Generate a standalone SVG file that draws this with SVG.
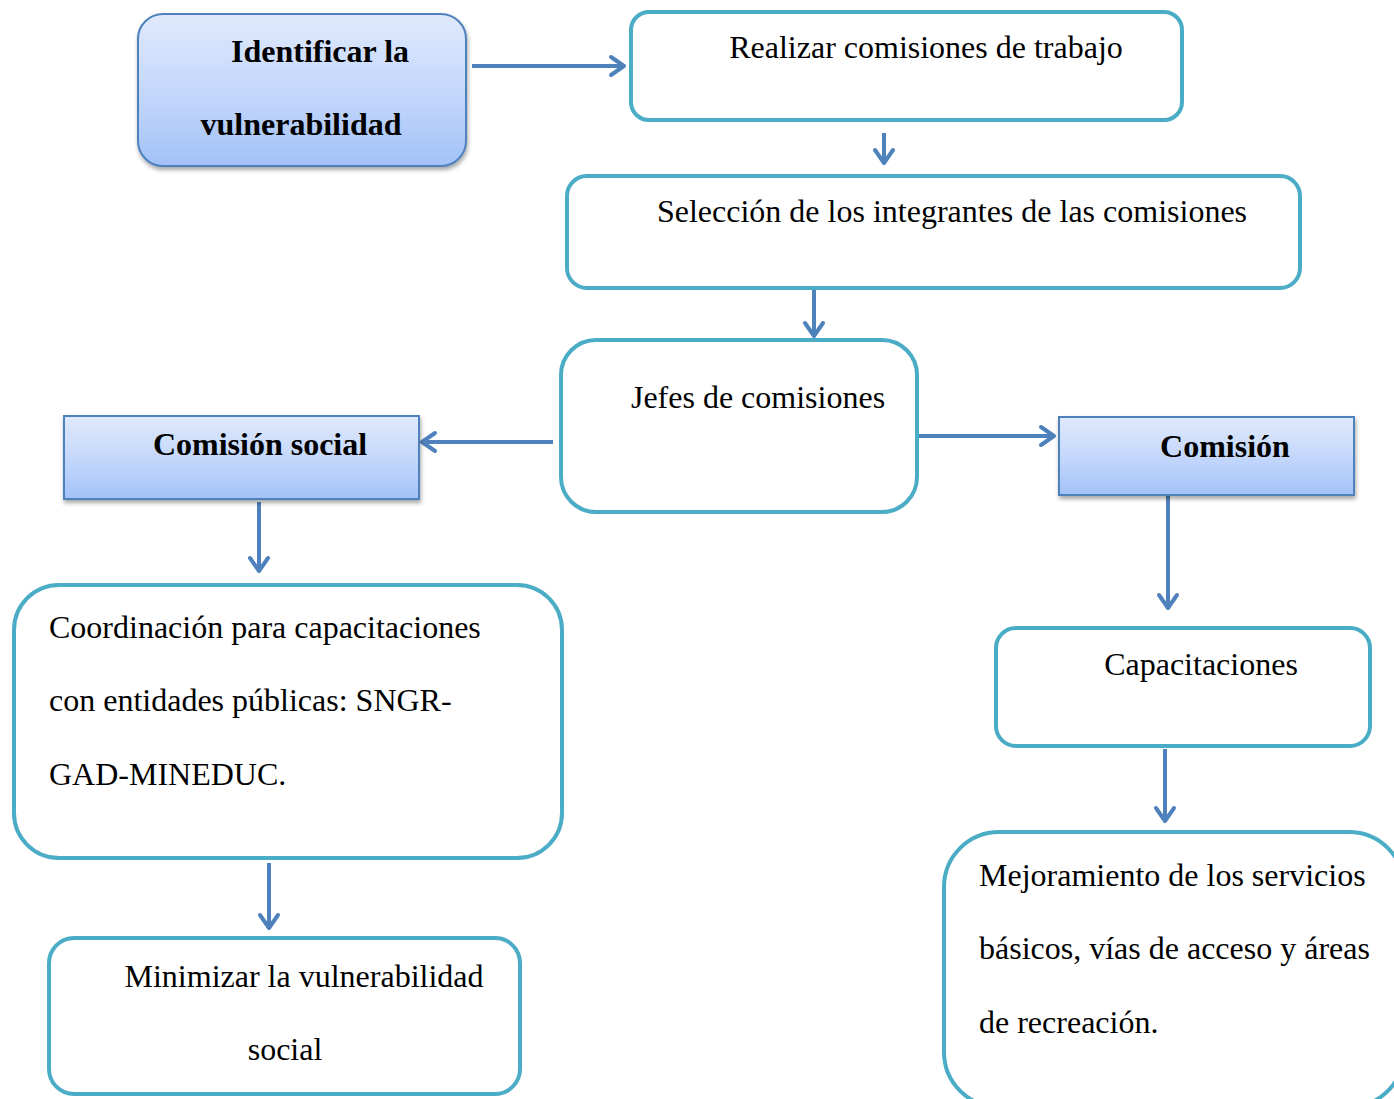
<svg xmlns="http://www.w3.org/2000/svg" width="1394" height="1099" viewBox="0 0 1394 1099">
<style>
.t{font-family:"Liberation Serif","Times New Roman",serif;font-size:32px;fill:#000}
.b{font-weight:bold}
.box{fill:#fff;stroke:#4bacc6;stroke-width:4}
.grad{fill:url(#g);stroke:#4f81bd;stroke-width:2;filter:url(#sh)}
.c{fill:none;stroke:#4f81bd;stroke-width:4;marker-end:url(#ah)}
</style>
<defs>
<linearGradient id="g" x1="0" y1="0" x2="0" y2="1">
<stop offset="0" stop-color="#dfe9fc"/>
<stop offset="0.5" stop-color="#c5d8fb"/>
<stop offset="1" stop-color="#a3c2f8"/>
</linearGradient>
<filter id="sh" x="-10%" y="-10%" width="125%" height="130%">
<feDropShadow dx="1" dy="3" stdDeviation="2" flood-color="#000" flood-opacity="0.35"/>
</filter>
<marker id="ah" markerUnits="userSpaceOnUse" viewBox="-16 -12 20 24" markerWidth="20" markerHeight="24" refX="0" refY="0" orient="auto" overflow="visible">
<path d="M-13,-9 L0,0 L-13,9" fill="none" stroke="#4f81bd" stroke-width="4" stroke-linecap="round" stroke-linejoin="round"/>
</marker>
</defs>
<g id="connectors">
<line class="c" x1="472" y1="66" x2="624" y2="66"/>
<line class="c" x1="884" y1="133" x2="884" y2="163"/>
<line class="c" x1="814" y1="290" x2="814" y2="336"/>
<line class="c" x1="553" y1="442" x2="422" y2="442"/>
<line class="c" x1="913" y1="436" x2="1054" y2="436"/>
<line class="c" x1="259" y1="502" x2="259" y2="571"/>
<line class="c" x1="1168" y1="496" x2="1168" y2="608"/>
<line class="c" x1="269" y1="863" x2="269" y2="928"/>
<line class="c" x1="1165" y1="749" x2="1165" y2="821"/>
</g>
<g id="n1">
<rect class="grad" x="138" y="14" width="328" height="152" rx="25"/>
<text class="t b" x="320" y="62" text-anchor="middle">Identificar la</text>
<text class="t b" x="301" y="135" text-anchor="middle">vulnerabilidad</text>
</g>
<g id="n2">
<rect class="box" x="631" y="12" width="551" height="108" rx="18"/>
<text class="t" x="926" y="58" text-anchor="middle">Realizar comisiones de trabajo</text>
</g>
<g id="n3">
<rect class="box" x="567" y="176" width="733" height="112" rx="20"/>
<text class="t" x="952" y="222" text-anchor="middle">Selección de los integrantes de las comisiones</text>
</g>
<g id="n4">
<rect class="box" x="561" y="340" width="356" height="172" rx="35"/>
<text class="t" x="758" y="408" text-anchor="middle">Jefes de comisiones</text>
</g>
<g id="n5">
<rect class="grad" x="64" y="416" width="355" height="83"/>
<text class="t b" x="260" y="455" text-anchor="middle">Comisión social</text>
</g>
<g id="n6">
<rect class="grad" x="1059" y="417" width="295" height="78"/>
<text class="t b" x="1225" y="457" text-anchor="middle">Comisión</text>
</g>
<g id="n7">
<rect class="box" x="14" y="585" width="548" height="273" rx="45"/>
<text class="t" x="49" y="638">Coordinación para capacitaciones</text>
<text class="t" x="49" y="711">con entidades públicas: SNGR-</text>
<text class="t" x="49" y="785">GAD-MINEDUC.</text>
</g>
<g id="n8">
<rect class="box" x="49" y="938" width="471" height="156" rx="25"/>
<text class="t" x="304" y="987" text-anchor="middle">Minimizar la vulnerabilidad</text>
<text class="t" x="285" y="1060" text-anchor="middle">social</text>
</g>
<g id="n9">
<rect class="box" x="996" y="628" width="374" height="118" rx="20"/>
<text class="t" x="1201" y="675" text-anchor="middle">Capacitaciones</text>
</g>
<g id="n10">
<rect class="box" x="944" y="832" width="460" height="275" rx="55"/>
<text class="t" x="979" y="886">Mejoramiento de los servicios</text>
<text class="t" x="979" y="959">básicos, vías de acceso y áreas</text>
<text class="t" x="979" y="1033">de recreación.</text>
</g>
</svg>
